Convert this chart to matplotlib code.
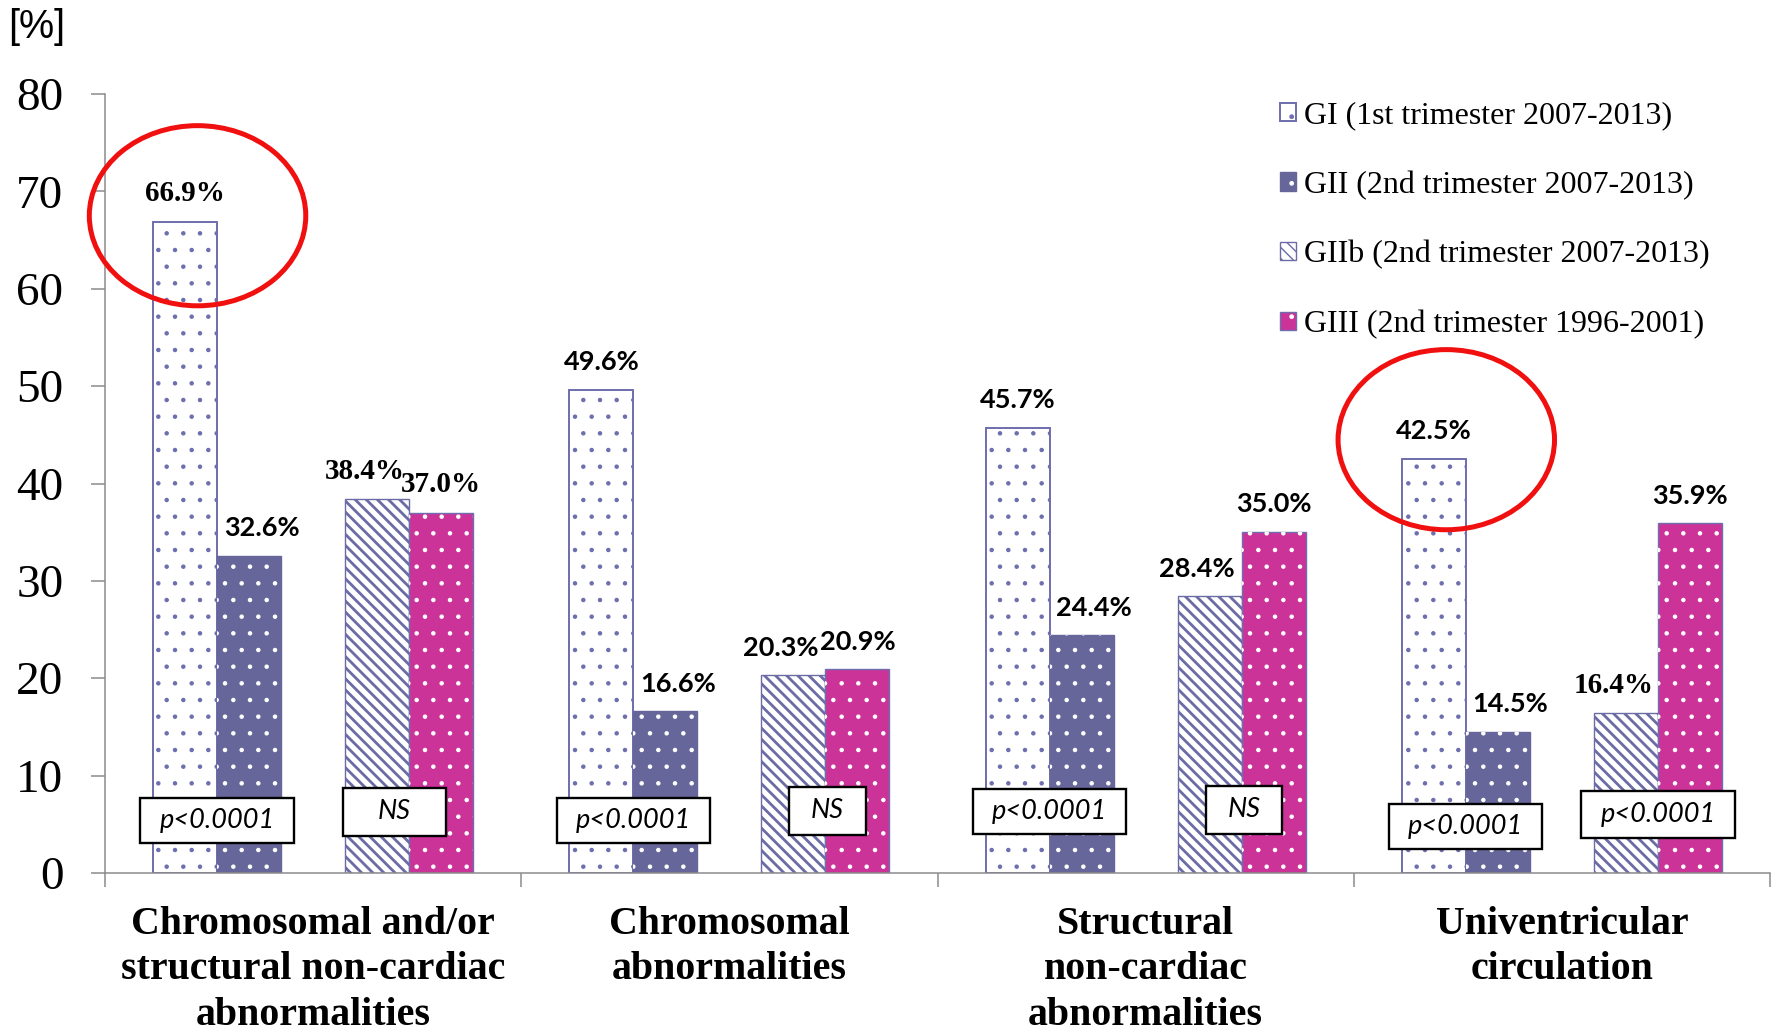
import matplotlib
matplotlib.use("Agg")
import matplotlib.pyplot as plt
from matplotlib.patches import Ellipse
from matplotlib.path import Path
from matplotlib.legend_handler import HandlerTuple
import numpy as np

# ---- data -------------------------------------------------------------
categories = [
    "Chromosomal and/or\nstructural non-cardiac\nabnormalities",
    "Chromosomal\nabnormalities",
    "Structural\nnon-cardiac\nabnormalities",
    "Univentricular\ncirculation",
]
series_names = [
    "GI (1st trimester 2007-2013)",
    "GII (2nd trimester 2007-2013)",
    "GIIb (2nd trimester 2007-2013)",
    "GIII (2nd trimester 1996-2001)",
]
gi = [66.9, 49.6, 45.7, 42.5]
gii = [32.6, 16.6, 24.4, 14.5]
giib = [38.4, 20.3, 28.4, 16.4]
giii = [37.0, 20.9, 35.0, 35.9]
p_gi_vs_gii = ["p<0.0001", "p<0.0001", "p<0.0001", "p<0.0001"]
p_giib_vs_giii = ["NS", "NS", "NS", "p<0.0001"]
circled_categories = [0, 3]          # GI bars singled out with a red ring
yticks = list(range(0, 81, 10))

# ---- styling ------------------------------------------------------------
SERIF = ["Liberation Serif", "DejaVu Serif"]
SANS = ["Lato", "DejaVu Sans"]
C_EDGE = "#6E6EAE"
C_GII = "#66669A"
C_STRIPE = "#6B6BA5"
C_GIII = "#CC3399"
C_AXIS = "#8C8C8C"

plt.rcParams["hatch.linewidth"] = 1.0


class PaddedBox:
    """Rectangular text frame with separate horizontal / vertical padding."""

    def __init__(self, padx, pady):
        self.padx = padx
        self.pady = pady

    def __call__(self, x0, y0, width, height, mutation_size):
        px = self.padx * mutation_size
        py = self.pady * mutation_size
        x1, y1 = x0 + width + px, y0 + height + py
        x0, y0 = x0 - px, y0 - py
        return Path([(x0, y0), (x1, y0), (x1, y1), (x0, y1), (x0, y0)],
                    closed=True)


fig = plt.figure(figsize=(17.81, 10.31), dpi=100)
ax = fig.add_axes([105 / 1781, 158 / 1031, 1665 / 1781, 779 / 1031])

x = np.arange(len(categories))
w = 2 / 13
pos = [x - 2 * w, x - w, x + w, x + 2 * w]


def hatch_lw(bars, lw):
    for p in bars:
        if hasattr(p, "set_hatch_linewidth"):
            p.set_hatch_linewidth(lw)


b_gi = ax.bar(pos[0], gi, w, facecolor="white", edgecolor=C_EDGE,
              linewidth=1.4, hatch=".", zorder=2)
hatch_lw(b_gi, 0.8)

b_gii = ax.bar(pos[1], gii, w, facecolor=C_GII, edgecolor=C_GII,
               linewidth=1.0, zorder=2)
b_gii_dots = ax.bar(pos[1], gii, w, facecolor="none", edgecolor="white",
                    linewidth=0, hatch=".", zorder=3)
hatch_lw(b_gii_dots, 0.8)

b_giib = ax.bar(pos[2], giib, w, facecolor="white", edgecolor=C_STRIPE,
                linewidth=1.0, hatch="\\\\\\", zorder=2)
hatch_lw(b_giib, 2.0)

b_giii = ax.bar(pos[3], giii, w, facecolor=C_GIII, edgecolor=C_EDGE,
                linewidth=1.0, zorder=2)
b_giii_dots = ax.bar(pos[3], giii, w, facecolor="none", edgecolor="white",
                     linewidth=0, hatch=".", zorder=3)
hatch_lw(b_giii_dots, 0.8)

# ---- value labels -------------------------------------------------------
serif_labels = {(0, 0), (2, 0), (3, 0), (2, 3)}   # (series, category)
label_dx = [0, 9, -9, 0]
for s, vals in enumerate([gi, gii, giib, giii]):
    for c, v in enumerate(vals):
        serif = (s, c) in serif_labels
        ax.annotate(f"{v:.1f}%", xy=(pos[s][c], v), xytext=(label_dx[s], 20),
                    textcoords="offset points", ha="center", va="center",
                    fontsize=21 if serif else 19.5, fontweight="bold",
                    family=SERIF if serif else SANS, zorder=5)

# ---- significance boxes ---------------------------------------------------
left_box_y = [5.4, 5.4, 6.3, 4.8]
right_box_y = [6.3, 6.4, 6.5, 6.0]
right_box_dx = [-0.035, 0.005, 0.005, 0.0]
right_box_padx = [1.3, 0.8, 0.8, 0.7]


def frame(padx, pady):
    return dict(boxstyle=PaddedBox(padx, pady), facecolor="white",
                edgecolor="black", linewidth=1.7)


for c in range(len(categories)):
    ax.text(x[c] - 1.5 * w, left_box_y[c], p_gi_vs_gii[c], ha="center",
            va="center", fontsize=19.5, style="italic", family=SANS,
            bbox=frame(0.7, 0.37), zorder=6)
    ax.text(x[c] + 1.5 * w + right_box_dx[c], right_box_y[c],
            p_giib_vs_giii[c], ha="center", va="center", fontsize=19.5,
            style="italic", family=SANS,
            bbox=frame(right_box_padx[c], 0.42), zorder=6)

# ---- red rings round the GI bars ---------------------------------------
ring_dy = [0.6, 2.0]
for c, dy in zip(circled_categories, ring_dy):
    ax.add_patch(Ellipse((pos[0][c] + 0.03, gi[c] + dy), 0.52, 18.5,
                         facecolor="none", edgecolor="#F01010",
                         linewidth=3.6, clip_on=False, zorder=7))

# ---- axes -----------------------------------------------------------------
ax.set_xlim(-0.5, len(categories) - 0.5)
ax.set_ylim(0, 80)
ax.set_yticks(yticks)
ax.set_yticklabels([str(t) for t in yticks], family=SERIF, fontsize=34)
ax.tick_params(axis="y", length=10, width=1.1, color=C_AXIS, pad=20)

ax.set_xticks(x)
ax.set_xticklabels(categories, family=SERIF, fontsize=28.7, fontweight="bold",
                   linespacing=1.29)
ax.tick_params(axis="x", which="major", length=0, pad=24)
ax.set_xticks(np.arange(-0.5, len(categories)), minor=True)
ax.tick_params(axis="x", which="minor", length=10, width=1.1, color=C_AXIS)

for side in ("top", "right"):
    ax.spines[side].set_visible(False)
for side in ("left", "bottom"):
    ax.spines[side].set_color(C_AXIS)
    ax.spines[side].set_linewidth(1.1)

fig.text(37 / 1781, 1 - 27 / 1031, "[%]", ha="center", va="center",
         fontsize=28.5, family=["Liberation Sans", "DejaVu Sans"])

leg = ax.legend(
    [b_gi, (b_gii, b_gii_dots), b_giib, (b_giii, b_giii_dots)],
    series_names,
    handler_map={tuple: HandlerTuple(ndivide=1)},
    loc="upper left", bbox_to_anchor=(0.706, 0.991),
    frameon=False, borderpad=0, borderaxespad=0,
    handlelength=0.5, handleheight=0.5, handletextpad=0.25,
    labelspacing=1.27, prop={"family": SERIF, "size": 23},
)

fig.savefig("out.png", dpi=100, facecolor="white")
